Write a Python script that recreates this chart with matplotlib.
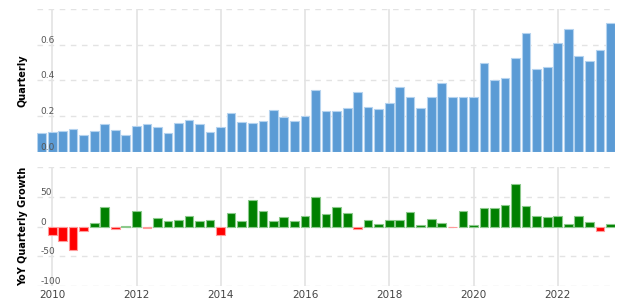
import pandas as pd
import matplotlib
matplotlib.use("Agg")
import matplotlib.pyplot as plt
import matplotlib.dates as mdates

# quarter-end dates, Q3 2009 .. Q1 2023
quarters = pd.date_range("2009-09-30", "2023-03-31", freq="QE")

quarterly = [0.105, 0.112, 0.118, 0.127, 0.095, 0.118, 0.155, 0.123, 0.095, 0.146,
             0.155, 0.140, 0.105, 0.164, 0.178, 0.155, 0.112, 0.140, 0.219, 0.168,
             0.161, 0.174, 0.234, 0.193, 0.174, 0.200, 0.346, 0.228, 0.228, 0.247,
             0.333, 0.254, 0.241, 0.273, 0.364, 0.308, 0.245, 0.305, 0.383, 0.308,
             0.305, 0.308, 0.499, 0.402, 0.415, 0.525, 0.667, 0.462, 0.475, 0.611,
             0.690, 0.538, 0.508, 0.572, 0.721]

# YoY growth in %, first quarter has no value
growth = [None, -14.5, -24, -39, -8, 6, 33.5, -3.4, 1, 25.7,
          -2, 14, 9, 11.7, 17.3, 10, 11.7, -14.5, 23, 10,
          44.7, 26.8, 9, 15.6, 9, 17.3, 49.7, 21.8, 33.5, 23.5,
          -4.5, 11.7, 5, 11.7, 10.6, 24, 3.4, 12.8, 6, -0.6,
          26.8, 2.2, 30.7, 30.7, 36.3, 71, 35, 17.3, 16.2, 17.3,
          5, 17.3, 7.8, -6.7, 5]

q_ticks = [0, 0.2, 0.4, 0.6, 0.8]
q_labels = ["0.0", "0.2", "0.4", "0.6", ""]
g_ticks = [-100, -50, 0, 50, 100]
g_labels = ["-100", "-50", "0", "50", ""]

df = pd.DataFrame({"Quarterly": quarterly, "Growth": growth}, index=quarters)
df["Growth"] = df["Growth"].astype(float)

width = pd.Timedelta(days=75)
grid_c = "#e3e3e3"

fig = plt.figure(figsize=(6.4, 3.07), dpi=100)
ax1 = fig.add_axes([0.0578, 0.505, 0.903, 0.466])
ax2 = fig.add_axes([0.0578, 0.068, 0.903, 0.388], sharex=ax1)

ax1.bar(df.index, df["Quarterly"], width=width, color="#5b9bd5",
        edgecolor="#b5d3ef", linewidth=0.8)

g = df["Growth"].dropna()
colors = ["#008000" if v >= 0 else "#ff0000" for v in g]
edges = ["#8cc98c" if v >= 0 else "#ff9a9a" for v in g]
ax2.bar(g.index, g, width=width, color=colors, edgecolor=edges, linewidth=0.8)

ax1.set_ylim(0, 0.8)
ax2.set_ylim(-100, 100)

half = pd.Timedelta(days=40)
ax1.set_xlim(df.index[0] - half, df.index[-1] + half)
ax1.xaxis.set_major_locator(mdates.YearLocator(2))
ax1.xaxis.set_major_formatter(mdates.DateFormatter("%Y"))

for ax, ticks, labels in ((ax1, q_ticks, q_labels), (ax2, g_ticks, g_labels)):
    ax.set_axisbelow(True)
    for s in ax.spines.values():
        s.set_visible(False)
    ax.set_yticks(ticks)
    ax.tick_params(axis="y", length=0, labelleft=False)
    ax.grid(axis="y", color=grid_c, linestyle=(0, (4, 4)), linewidth=1)
    ax.grid(axis="x", color=grid_c, linestyle="-", linewidth=1.2)
    # tick labels drawn inside the plot, on top of the bars
    for v, lab in zip(ticks, labels):
        ax.text(0.006, v, lab, transform=ax.get_yaxis_transform(),
                ha="left", va="bottom", fontsize=6.5, color="#555555", zorder=5)

ax1.tick_params(axis="x", length=0, labelbottom=False)
ax2.tick_params(axis="x", length=0, pad=3, labelsize=7.5, labelcolor="#444444")

ax1.set_ylabel("Quarterly", fontsize=7, fontweight="bold")
ax2.set_ylabel("YoY Quarterly Growth", fontsize=7, fontweight="bold")
ax1.yaxis.set_label_coords(-0.016, 0.5)
ax2.yaxis.set_label_coords(-0.016, 0.5)

fig.savefig("out.png", dpi=100)
